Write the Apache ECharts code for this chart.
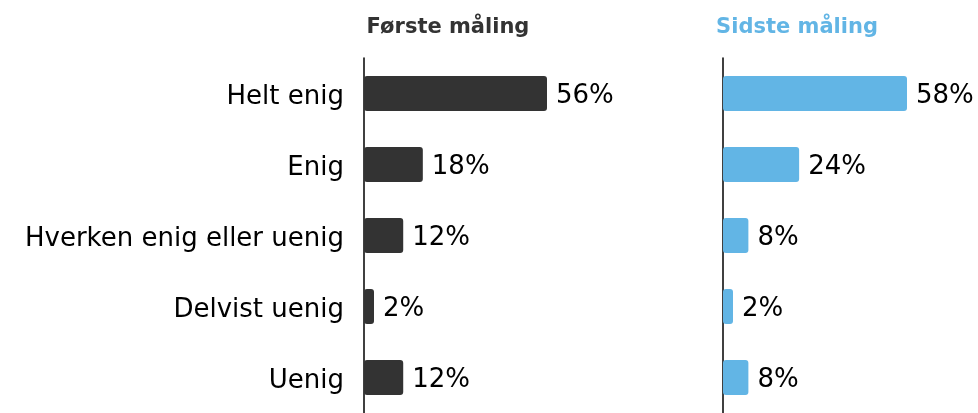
<!DOCTYPE html>
<html>
<head>
<meta charset="utf-8">
<script src="https://cdn.jsdelivr.net/npm/echarts@6/dist/echarts.min.js"></script>
<style>
  html, body { margin: 0; padding: 0; background: #fff; }
  #chart { width: 978px; height: 413px; }
</style>
</head>
<body>
<div id="chart"></div>
<script>
const categories = ['Helt enig', 'Enig', 'Hverken enig eller uenig', 'Delvist uenig', 'Uenig']
const panelTitles = ['Første måling', 'Sidste måling']
const firstValues = [56, 18, 12, 2, 12]
const lastValues = [58, 24, 8, 2, 8]

const font = 'DejaVu Sans, Verdana, sans-serif'
const darkColor = '#333333'
const blueColor = '#62b5e5'

const chart = echarts.init(document.getElementById('chart'))

const makeSeries = (idx, data, color) => ({
	type: 'bar',
	xAxisIndex: idx,
	yAxisIndex: idx,
	data: data,
	barWidth: 35,
	barMinHeight: 10,
	itemStyle: { color: color, borderRadius: 3 },
	label: {
		show: true,
		position: 'right',
		distance: 9,
		offset: [0, 3],
		formatter: '{c}%',
		color: '#000',
		fontFamily: font,
		fontSize: 26,
	},
	silent: true,
})

const yAxisBase = (idx, showLabels) => ({
	type: 'category',
	gridIndex: idx,
	inverse: true,
	data: categories,
	axisLine: { show: true, lineStyle: { color: '#000', width: 1.5 } },
	axisTick: { show: false },
	axisLabel: {
		show: showLabels,
		color: '#000',
		fontFamily: font,
		fontSize: 26,
		margin: 20,
		lineHeight: 8,
		verticalAlign: 'top',
	},
})

const option = {
	animation: false,
	title: [
		{
			text: panelTitles[0],
			left: 443,
			top: 12,
			textAlign: 'center',
			textStyle: { color: darkColor, fontFamily: font, fontSize: 21, fontWeight: 'bold' },
		},
		{
			text: panelTitles[1],
			left: 792,
			top: 12,
			textAlign: 'center',
			textStyle: { color: blueColor, fontFamily: font, fontSize: 21, fontWeight: 'bold' },
		},
	],
	grid: [
		{ left: 364, width: 183, top: 58, bottom: -5 },
		{ left: 723, width: 184, top: 58, bottom: -5 },
	],
	xAxis: [
		{ type: 'value', gridIndex: 0, min: 0, max: 'dataMax', show: false },
		{ type: 'value', gridIndex: 1, min: 0, max: 'dataMax', show: false },
	],
	yAxis: [yAxisBase(0, true), yAxisBase(1, false)],
	series: [
		makeSeries(0, firstValues, darkColor),
		makeSeries(1, lastValues, blueColor),
	],
}

chart.setOption(option)
</script>
</body>
</html>
